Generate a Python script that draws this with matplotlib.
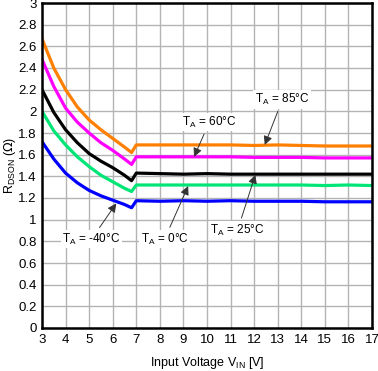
import matplotlib
matplotlib.use("Agg")
import matplotlib.pyplot as plt

vin = [3, 3.5, 4, 4.5, 5, 5.5, 6, 6.5, 6.8, 7, 8, 9, 10, 11, 12, 13, 14, 15, 16, 17]
r_85 = [2.67, 2.40, 2.20, 2.04, 1.92, 1.83, 1.75, 1.67, 1.62, 1.69, 1.69, 1.69, 1.69, 1.69, 1.685, 1.69, 1.685, 1.68, 1.68, 1.68]
r_60 = [2.48, 2.23, 2.03, 1.90, 1.80, 1.71, 1.64, 1.56, 1.51, 1.58, 1.58, 1.58, 1.58, 1.58, 1.575, 1.575, 1.575, 1.57, 1.57, 1.57]
r_25 = [2.20, 1.99, 1.83, 1.71, 1.61, 1.54, 1.48, 1.41, 1.36, 1.43, 1.425, 1.42, 1.425, 1.42, 1.42, 1.42, 1.42, 1.42, 1.42, 1.42]
r_0 = [2.00, 1.82, 1.69, 1.58, 1.49, 1.41, 1.35, 1.29, 1.26, 1.32, 1.32, 1.32, 1.32, 1.32, 1.32, 1.32, 1.32, 1.315, 1.32, 1.315]
r_m40 = [1.72, 1.56, 1.43, 1.34, 1.27, 1.22, 1.18, 1.14, 1.11, 1.175, 1.17, 1.175, 1.17, 1.175, 1.17, 1.17, 1.17, 1.165, 1.165, 1.165]

series = [
    (r_85, "#FF8000"),
    (r_60, "#FF00FF"),
    (r_25, "#000000"),
    (r_0, "#00E676"),
    (r_m40, "#0000FF"),
]

labels = [
    (r"T$_\mathregular{A}$ = 85°C", (13.2, 2.11), (12.45, 1.69)),
    (r"T$_\mathregular{A}$ = 60°C", (10.1, 1.90), (9.45, 1.58)),
    (r"T$_\mathregular{A}$ = -40°C", (5.1, 0.82), (6.15, 1.15)),
    (r"T$_\mathregular{A}$ = 0°C", (8.2, 0.82), (9.2, 1.31)),
    (r"T$_\mathregular{A}$ = 25°C", (11.3, 0.905), (12.05, 1.415)),
]

plt.rcParams['font.family'] = ['Liberation Sans', 'DejaVu Sans']
fig = plt.figure(figsize=(3.78, 3.71), dpi=100)
ax = fig.add_axes([42/378, 43/371, 330/378, 325/371])

for ys, c in series:
    ax.plot(vin, ys, color=c, lw=2.3, solid_joinstyle='round')

for txt, tpos, tip in labels:
    ax.annotate(txt, xy=tip, xytext=tpos, ha='center', va='center', fontsize=8.5,
                bbox=dict(boxstyle='square,pad=0.15', fc='white', ec='none'),
                arrowprops=dict(arrowstyle='-|>', color='#333333', lw=0.7,
                                mutation_scale=13, shrinkA=2, shrinkB=0))

ax.set_xlim(3, 17)
ax.set_ylim(0, 3)
ax.set_xticks(range(3, 18))
ax.set_yticks([i * 0.2 for i in range(16)])
ax.set_yticklabels(["0", "0.2", "0.4", "0.6", "0.8", "1", "1.2", "1.4", "1.6", "1.8", "2", "2.2", "2.4", "2.6", "2.8", "3"])
ax.grid(True, color='#b4b4b4', lw=1)
ax.set_axisbelow(True)
ax.tick_params(length=0, labelsize=9.5, pad=4)
for s in ax.spines.values():
    s.set_linewidth(1.8)
ax.set_xlabel(r"Input Voltage V$_\mathregular{IN}$ [V]", fontsize=9)
ax.set_ylabel(r"R$_\mathregular{DSON}$ ($\Omega$)", fontsize=9)
ax.xaxis.set_label_coords(0.5, -27/325, transform=ax.transAxes)
ax.yaxis.set_label_coords(-24/330, 0.5, transform=ax.transAxes)

fig.savefig("out.png", dpi=100)
